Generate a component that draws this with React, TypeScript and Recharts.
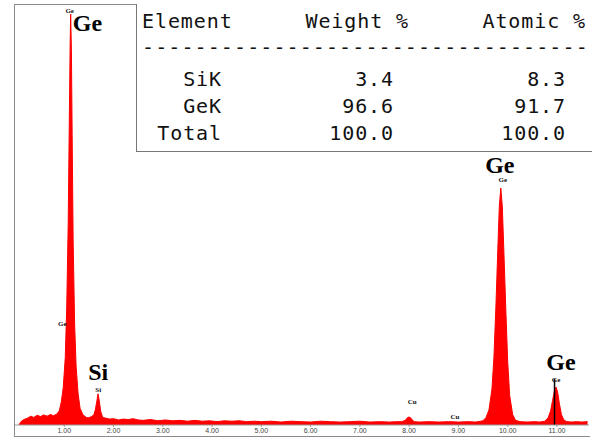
import { AreaChart, Area, XAxis, YAxis, ReferenceDot, ReferenceLine } from 'recharts'

// EDS spectrum: energy (keV) and counts (% of the Ge L peak scale)
const energy = [
  0.08, 0.12, 0.18, 0.25, 0.32, 0.38, 0.45, 0.52, 0.58, 0.65, 0.72, 0.78, 0.85,
  0.90, 0.94, 0.98, 1.02, 1.05, 1.08, 1.10, 1.12, 1.13, 1.145, 1.16, 1.18, 1.21, 1.24, 1.28, 1.32, 1.38,
  1.45, 1.50, 1.55, 1.60, 1.63, 1.66, 1.685, 1.71, 1.74, 1.78, 1.85, 1.92,
  2.00, 2.10, 2.20, 2.30, 2.40, 2.50, 2.60, 2.75, 2.90, 3.05, 3.20, 3.35, 3.50, 3.65, 3.80, 3.95,
  4.10, 4.25, 4.40, 4.55, 4.70, 4.85, 5.00, 5.20, 5.40, 5.60, 5.80, 6.00, 6.20, 6.40, 6.60, 6.80,
  7.00, 7.20, 7.40, 7.60, 7.75, 7.85, 7.92, 7.97, 8.01, 8.05, 8.10, 8.20, 8.40, 8.60, 8.80,
  9.00, 9.20, 9.35, 9.45, 9.50, 9.56, 9.62, 9.68, 9.72, 9.76, 9.80, 9.83, 9.86, 9.89, 9.92, 9.96,
  10.00, 10.04, 10.10, 10.16, 10.25, 10.40, 10.55, 10.65, 10.75, 10.82, 10.87, 10.91, 10.95, 10.98,
  11.01, 11.05, 11.09, 11.14, 11.20, 11.30, 11.40, 11.50, 11.62,
]
const counts = [
  0, 0.8, 1.3, 1.6, 2.1, 1.8, 2.3, 2.0, 2.4, 2.1, 2.5, 2.2, 2.6,
  3.4, 5.5, 9, 16, 28, 48, 70, 91, 97.6, 89, 69, 44, 24, 14, 7.5, 4, 2.4,
  1.8, 1.7, 2.0, 2.4, 3.6, 5.6, 7.4, 5.8, 3.2, 1.8, 1.6, 1.4,
  1.5, 1.2, 1.4, 1.3, 1.5, 1.2, 1.1, 1.3, 1.0, 1.2, 1.0, 1.1, 0.9, 1.1, 0.9, 1.0,
  0.8, 1.0, 0.9, 1.0, 0.8, 0.9, 0.8, 0.9, 0.7, 0.9, 0.8, 0.7, 0.9, 0.8, 0.7, 0.8,
  0.9, 0.7, 0.8, 0.7, 0.8, 0.8, 1.1, 1.8, 1.9, 1.4, 0.8, 0.7, 0.8, 0.7, 0.8,
  0.7, 0.8, 0.7, 0.9, 1.0, 1.8, 3.6, 8.5, 16, 28, 42, 52, 56.3, 52, 42, 28,
  15, 7, 2.5, 1.1, 0.8, 0.7, 0.8, 0.7, 0.9, 1.7, 3.3, 5.8, 8.2, 9.0,
  8.0, 5.0, 2.5, 1.2, 0.8, 0.7, 0.8, 0.7, 0.8,
]
const xTicks = [1, 2, 3, 4, 5, 6, 7, 8, 9, 10, 11]

// peak annotations (text centre in keV / counts)
const bigLabels = [
  { x: 1.47, y: 95.7, text: 'Ge' },
  { x: 1.69, y: 12.6, text: 'Si' },
  { x: 9.84, y: 62.0, text: 'Ge' },
  { x: 11.08, y: 15.0, text: 'Ge' },
]
const smallLabels = [
  { x: 1.11, y: 98.4, text: 'Ge' },
  { x: 0.96, y: 24.0, text: 'Ge' },
  { x: 1.69, y: 8.5, text: 'Si' },
  { x: 8.06, y: 5.5, text: 'Cu' },
  { x: 8.93, y: 2.1, text: 'Cu' },
  { x: 9.90, y: 58.2, text: 'Ge' },
  { x: 10.98, y: 10.7, text: 'Ge' },
]
const markerKeV = 10.95

// quantification table
const elements = ['SiK', 'GeK', 'Total']
const weightPct = [3.4, 96.6, 100.0]
const atomicPct = [8.3, 91.7, 100.0]

const data = energy.map((e, i) => ({ e, c: counts[i] }))

const mono = {
  position: 'absolute' as const,
  fontFamily: '"DejaVu Sans Mono", monospace',
  fontSize: 20,
  lineHeight: '20px',
  letterSpacing: 0.9,
  color: '#111',
  whiteSpace: 'pre' as const,
}
const rowTops = [69, 96, 123]

export default function App() {
  return (
    <div style={{ position: 'fixed', left: 0, top: 0, width: 592, height: 440, background: '#fff', overflow: 'hidden' }}>
      <AreaChart width={592} height={440} data={data} margin={{ top: 4, right: 3, left: 15, bottom: 2 }}>
        <XAxis
          dataKey="e"
          type="number"
          domain={[0, 11.65]}
          ticks={xTicks}
          tickFormatter={v => Number(v).toFixed(2)}
          height={13}
          tick={{ fontSize: 7, fill: '#444', fontFamily: '"Liberation Sans", sans-serif' }}
          tickSize={2}
          tickMargin={1}
          stroke="#999"
        />
        <YAxis hide domain={[0, 100]} />
        <Area
          type="linear"
          dataKey="c"
          stroke="#ff0000"
          strokeWidth={1}
          fill="#ff0000"
          fillOpacity={1}
          dot={false}
          activeDot={false}
          isAnimationActive={false}
        />
        <ReferenceLine
          segment={[{ x: markerKeV, y: 0 }, { x: markerKeV, y: 11 }]}
          stroke="#000"
          strokeWidth={1.5}
        />
        {bigLabels.map((l, i) => (
          <ReferenceDot key={'b' + i} x={l.x} y={l.y} r={0} stroke="none"
            label={{ value: l.text, position: 'center', fontSize: 24, fontWeight: 'bold', fill: '#000', fontFamily: '"Liberation Serif", serif' }}
          />
        ))}
        {smallLabels.map((l, i) => (
          <ReferenceDot key={'s' + i} x={l.x} y={l.y} r={0} stroke="none"
            label={{ value: l.text, position: 'center', fontSize: 7, fontWeight: 'bold', fill: '#111', fontFamily: '"Liberation Serif", serif' }}
          />
        ))}
      </AreaChart>

      {/* outer frame */}
      <div style={{ position: 'absolute', left: 14, top: 4, width: 576, height: 433, border: '1px solid #8a8a8a', borderRight: 'none', boxSizing: 'border-box' }} />

      {/* quantification table */}
      <div style={{ position: 'absolute', left: 136, top: 4, width: 456, height: 147, borderLeft: '1.5px solid #777', borderBottom: '1.5px solid #777', background: '#fff' }} />
      <div style={{ ...mono, left: 142, top: 11 }}>Element</div>
      <div style={{ ...mono, right: 592 - 409, top: 11 }}>Weight %</div>
      <div style={{ ...mono, right: 592 - 586, top: 11 }}>Atomic %</div>
      <div style={{ ...mono, left: 142, top: 37, letterSpacing: 1.1 }}>{'-'.repeat(34)}</div>
      {elements.map((el, i) => (
        <div key={el}>
          <div style={{ ...mono, right: 592 - 222, top: rowTops[i] }}>{el}</div>
          <div style={{ ...mono, right: 592 - 394, top: rowTops[i] }}>{weightPct[i].toFixed(1)}</div>
          <div style={{ ...mono, right: 592 - 566, top: rowTops[i] }}>{atomicPct[i].toFixed(1)}</div>
        </div>
      ))}
    </div>
  )
}
